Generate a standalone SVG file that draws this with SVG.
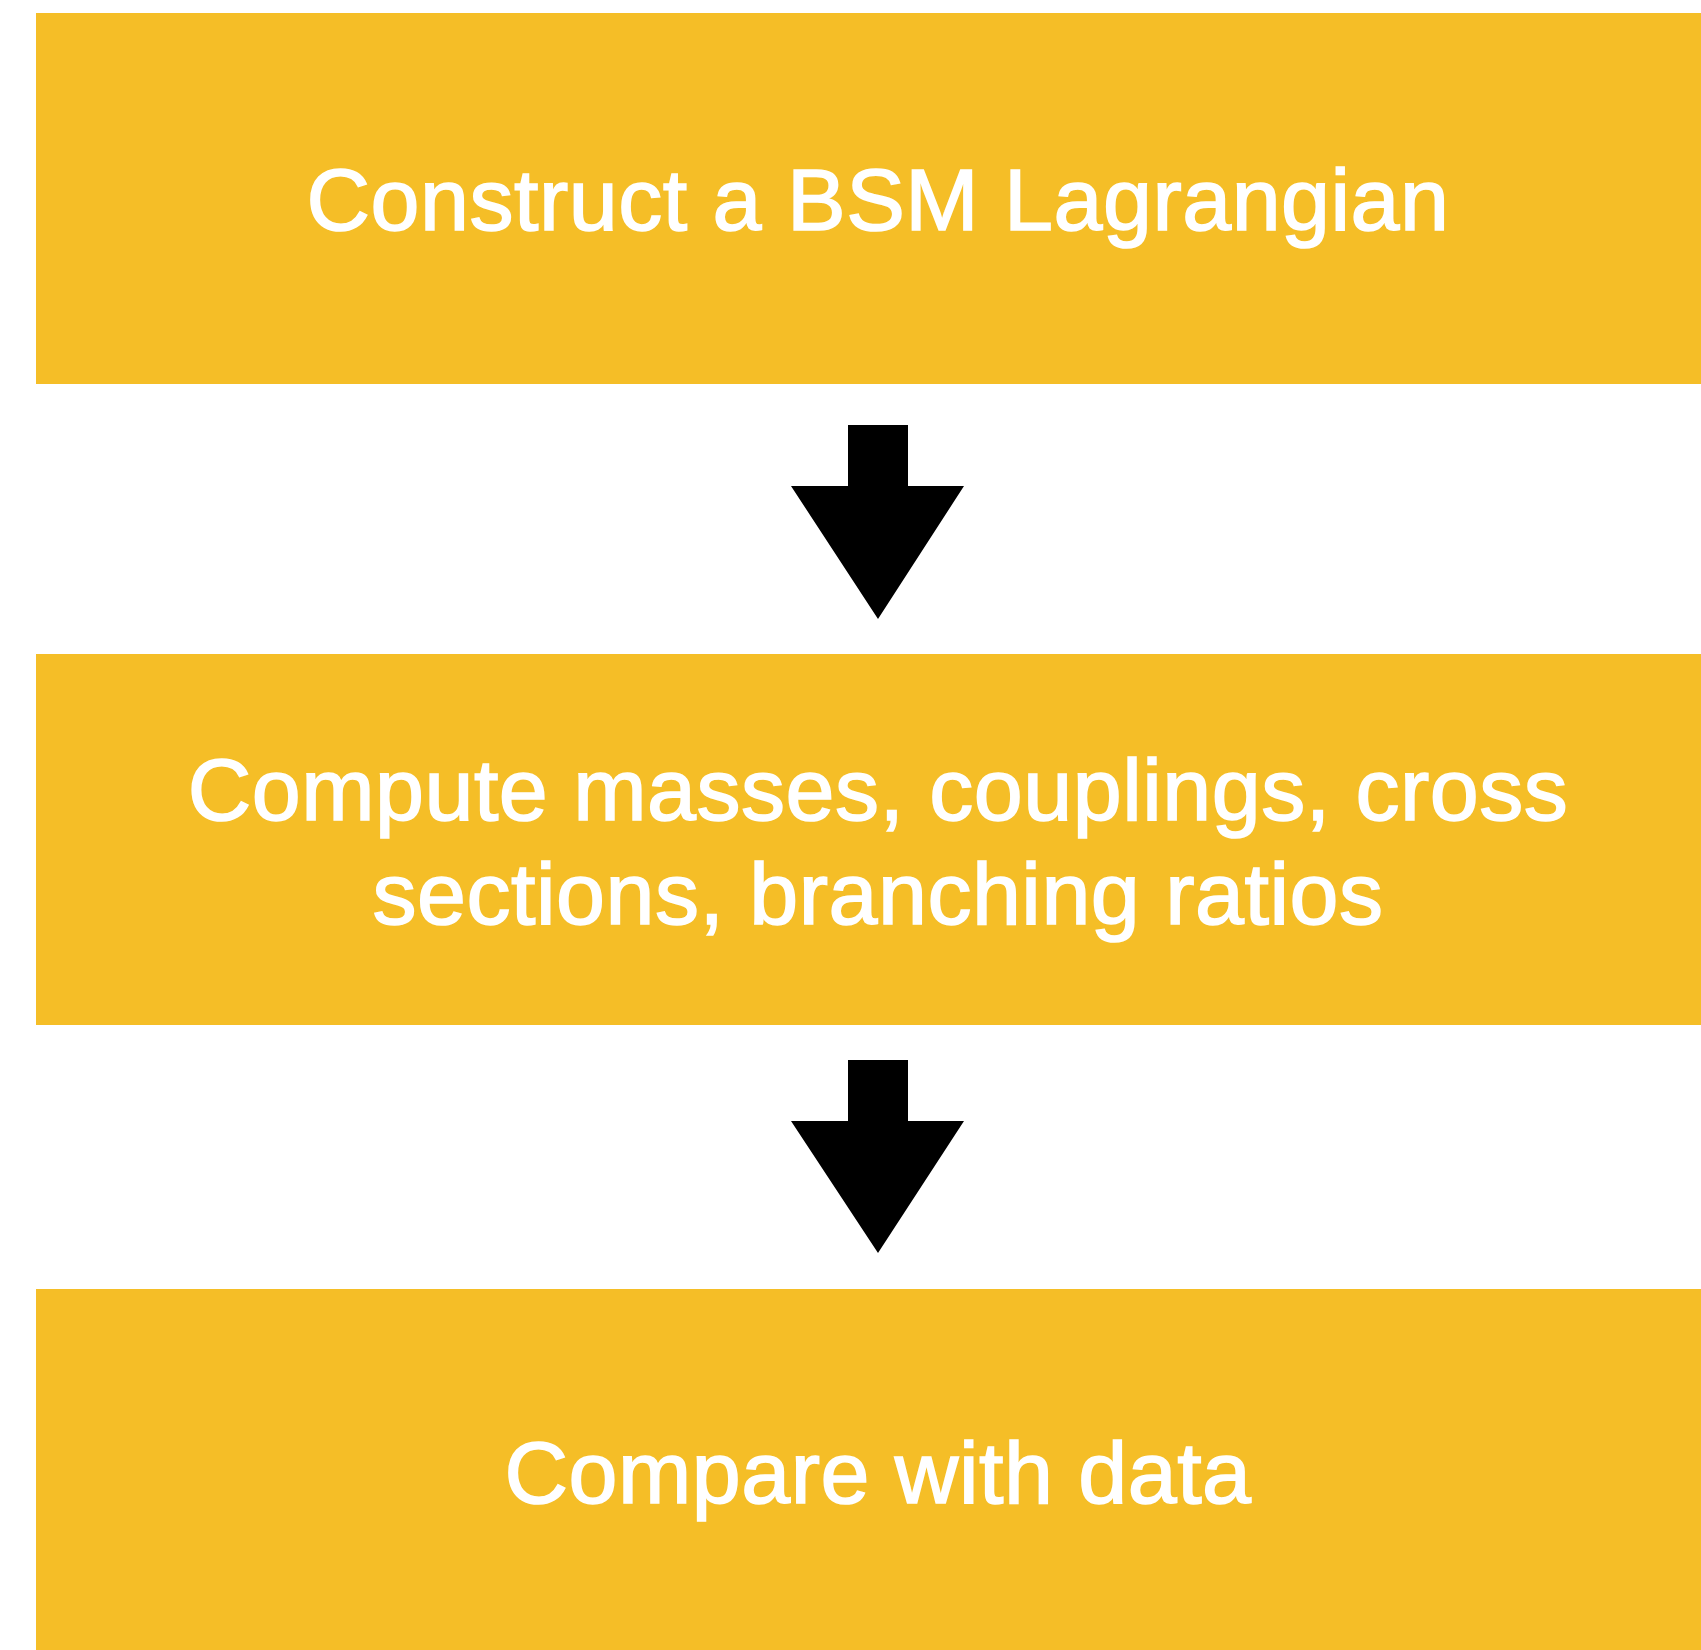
<svg xmlns="http://www.w3.org/2000/svg" width="1701" height="1650" viewBox="0 0 1701 1650">
  <style>
    .box { fill: #F5BE27; }
    .label { font-family: "Liberation Sans", Arial, sans-serif; font-size: 88px; letter-spacing: 0.5px; fill: #ffffff; text-anchor: middle; stroke: #ffffff; stroke-width: 1.6; }
    .arrow { fill: #000000; }
  </style>
  <rect width="1701" height="1650" fill="#ffffff"/>

  <g id="node-lagrangian">
    <rect class="box" x="36" y="13" width="1684" height="371"/>
    <text class="label" x="878" y="230">Construct a BSM Lagrangian</text>
  </g>

  <g id="node-compute">
    <rect class="box" x="36" y="654" width="1684" height="371"/>
    <text class="label" x="878" y="820">Compute masses, couplings, cross</text>
    <text class="label" x="878" y="924">sections, branching ratios</text>
  </g>

  <g id="node-compare">
    <rect class="box" x="36" y="1289" width="1684" height="371"/>
    <text class="label" x="878" y="1503">Compare with data</text>
  </g>

  <g id="connectors">
    <polygon class="arrow" points="848,425 908,425 908,486 964,486 878,619 791,486 848,486"/>
    <polygon class="arrow" points="848,1060 908,1060 908,1121 964,1121 878,1253 791,1121 848,1121"/>
  </g>
</svg>
